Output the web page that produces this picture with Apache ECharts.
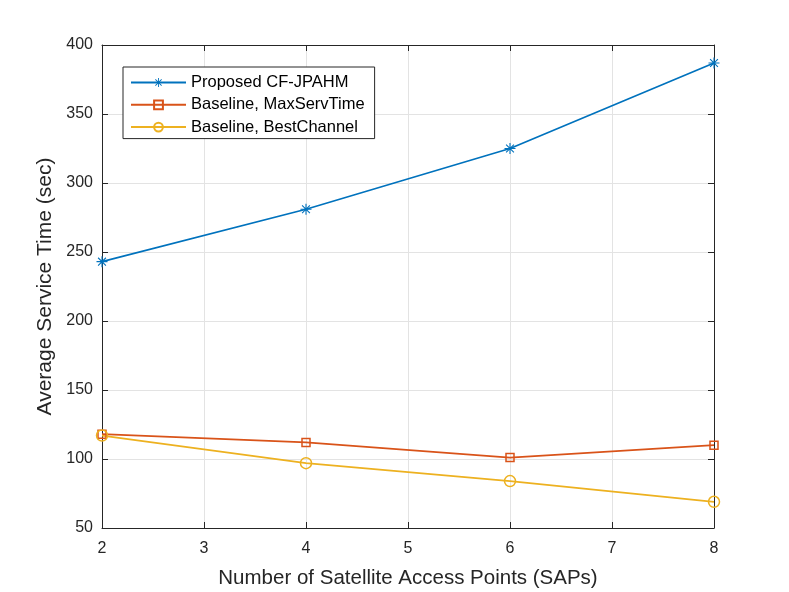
<!DOCTYPE html>
<html lang="en">
<head>
    <meta charset="UTF-8">
    <title>Average Service Time</title>
    <script src="https://cdn.jsdelivr.net/npm/echarts@6/dist/echarts.min.js"></script>
    <style>body { margin: 0; background: #fff; }</style>
</head>
<body>
    <div id="main" style="width: 789px;height:592px;"></div>
    <script type="text/javascript">
        // data
        const saps = [2, 4, 6, 8];
        const proposed = [243, 281, 325, 387];
        const maxServTime = [118, 112, 101, 110];
        const bestChannel = [117, 97, 84, 69];
        const seriesNames = ['Proposed CF-JPAHM', 'Baseline, MaxServTime', 'Baseline, BestChannel'];

        // asterisk marker made from four thin bars (plus and cross)
        const asterisk = 'path://M9,0 L11,0 L11,20 L9,20 Z M0,9 L20,9 L20,11 L0,11 Z ' +
            'M2.2,3.6 L3.6,2.2 L17.8,16.4 L16.4,17.8 Z M16.4,2.2 L17.8,3.6 L3.6,17.8 L2.2,16.4 Z';

        const font = 'Liberation Sans, Arial, sans-serif';
        const pairs = (ys) => saps.map((x, i) => [x, ys[i]]);

        const axisBase = {
            axisLine: { show: true, onZero: false, lineStyle: { color: '#262626', width: 1 } },
            axisTick: { show: true, inside: true, length: 6, lineStyle: { color: '#262626' } },
            axisLabel: { color: '#262626', fontSize: 16, fontFamily: font },
            splitLine: { show: true, lineStyle: { color: '#e3e3e3', width: 1 } }
        };

        let options = {
            backgroundColor: '#fff',
            animation: false,
            grid: { left: 102, right: 75, top: 45, bottom: 64, outerBoundsMode: 'none' },
            legend: {
                data: seriesNames,
                orient: 'vertical',
                left: 123,
                top: 67,
                itemWidth: 55,
                itemHeight: 11,
                itemGap: 5.3,
                padding: [7, 10, 3, 7],
                borderColor: '#262626',
                borderWidth: 1,
                backgroundColor: '#fff',
                textStyle: { fontSize: 16.5, fontFamily: font, color: '#000' }
            },
            xAxis: [
                Object.assign({}, axisBase, {
                    type: 'value', min: 2, max: 8, interval: 1,
                    name: 'Number of Satellite Access Points (SAPs)',
                    nameLocation: 'middle', nameGap: 40,
                    nameTextStyle: { fontSize: 20.5, fontFamily: font, color: '#262626' },
                    axisLabel: Object.assign({}, axisBase.axisLabel, { margin: 13 })
                }),
                Object.assign({}, axisBase, {
                    type: 'value', min: 2, max: 8, interval: 1, position: 'top',
                    axisLabel: { show: false }, splitLine: { show: false }
                })
            ],
            yAxis: [
                Object.assign({}, axisBase, {
                    type: 'value', min: 50, max: 400, interval: 50,
                    name: 'Average Service Time (sec)',
                    nameLocation: 'middle', nameGap: 45,
                    nameTextStyle: { fontSize: 21, fontFamily: font, color: '#262626' },
                    axisLabel: Object.assign({}, axisBase.axisLabel, { margin: 9 })
                }),
                Object.assign({}, axisBase, {
                    type: 'value', min: 50, max: 400, interval: 50, position: 'right',
                    axisLabel: { show: false }, splitLine: { show: false }
                })
            ],
            series: [
                {
                    name: seriesNames[0], type: 'line', data: pairs(proposed),
                    symbol: asterisk, symbolSize: 11,
                    itemStyle: { color: '#0072BD' },
                    lineStyle: { color: '#0072BD', width: 1.7 }
                },
                {
                    name: seriesNames[1], type: 'line', data: pairs(maxServTime),
                    symbol: 'rect', symbolSize: 8,
                    itemStyle: { color: 'rgba(0,0,0,0)', borderColor: '#D95319', borderWidth: 1.5 },
                    lineStyle: { color: '#D95319', width: 1.7 }
                },
                {
                    name: seriesNames[2], type: 'line', data: pairs(bestChannel),
                    symbol: 'circle', symbolSize: 11,
                    itemStyle: { color: 'rgba(0,0,0,0)', borderColor: '#EDB120', borderWidth: 1.5 },
                    lineStyle: { color: '#EDB120', width: 1.7 }
                }
            ]
        };

        let myChart = echarts.init(document.getElementById('main'));
        myChart.setOption(options);
    </script>
</body>
</html>
